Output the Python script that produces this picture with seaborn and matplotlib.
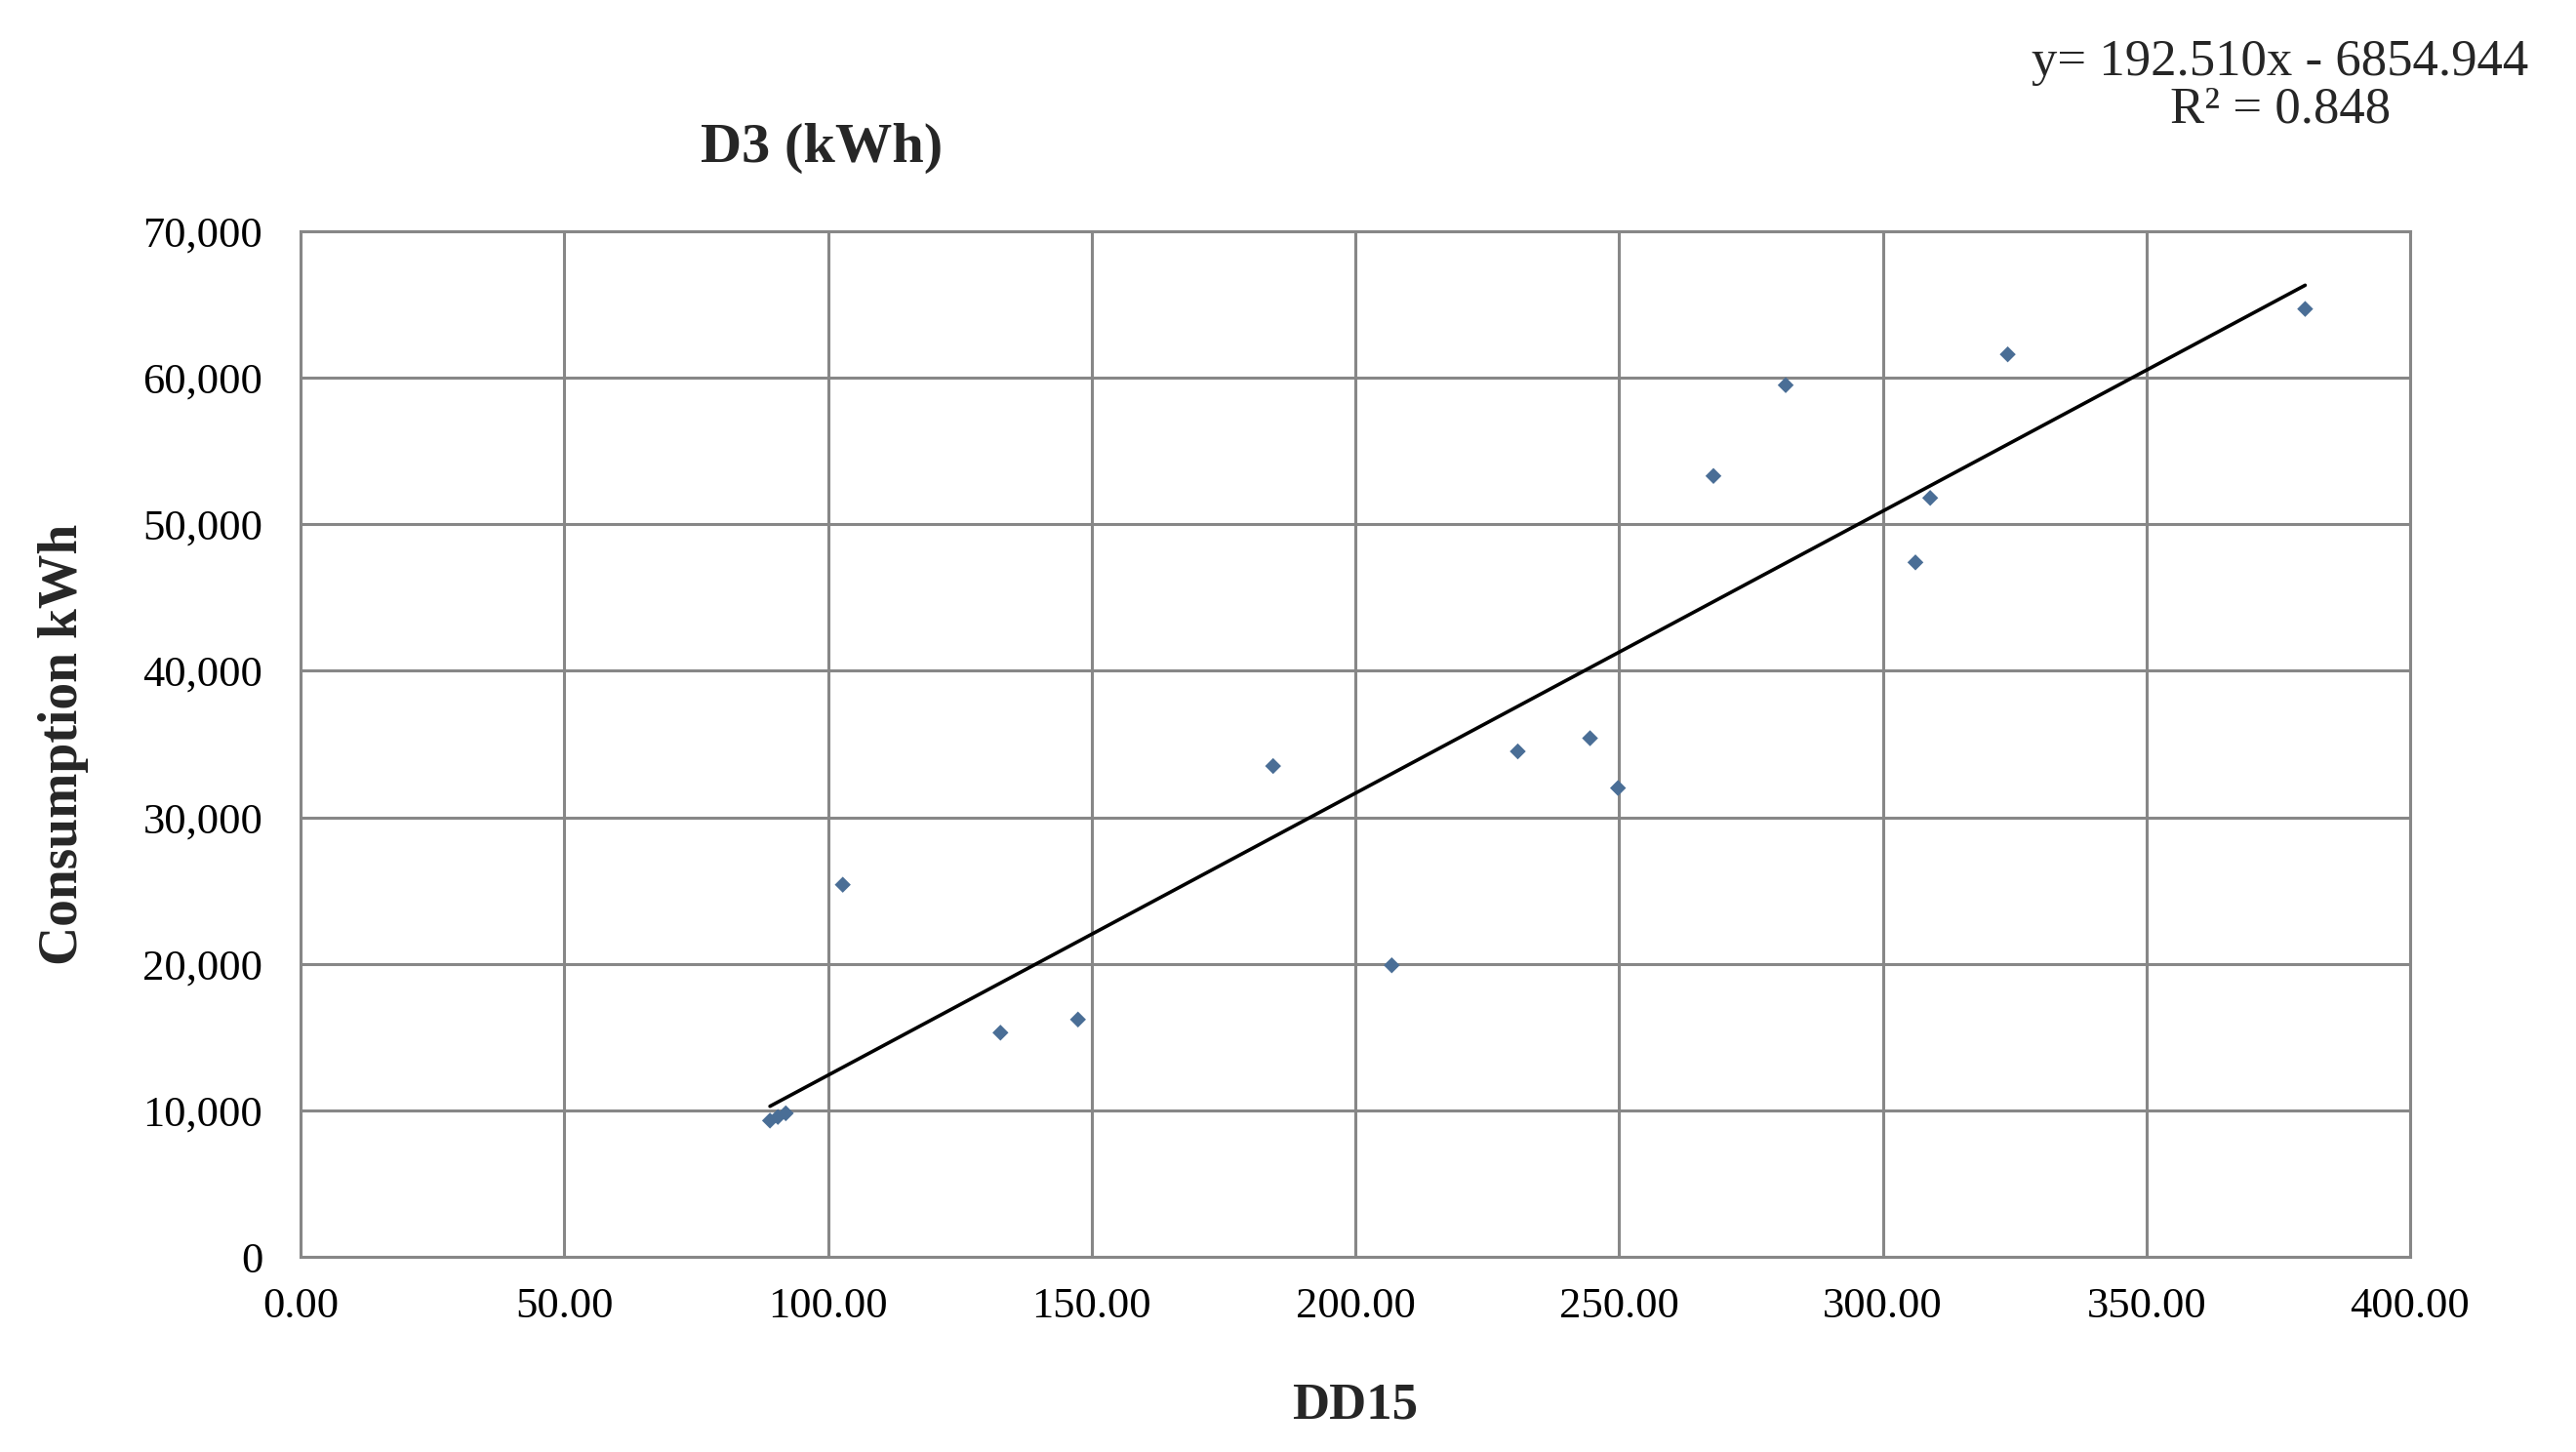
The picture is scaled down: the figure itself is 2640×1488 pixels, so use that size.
import numpy as np
import pandas as pd
import matplotlib
matplotlib.use("Agg")
import matplotlib.pyplot as plt
import seaborn as sns
from matplotlib.ticker import FuncFormatter, MultipleLocator

# ---- data ----
dd15 = [89.0, 90.5, 92.0, 102.8, 132.7, 147.4, 184.4, 206.9, 230.8, 244.5,
        249.8, 267.9, 281.6, 306.2, 309.0, 323.7, 380.1]
consumption = [9300, 9550, 9800, 25400, 15300, 16200, 33500, 19900, 34500, 35400,
               32000, 53300, 59500, 47400, 51800, 61600, 64700]
TREND_SLOPE = 192.510
TREND_INTERCEPT = -6854.944
R2 = 0.848

TITLE = "D3 (kWh)"
X_LABEL = "DD15"
Y_LABEL = "Consumption kWh"

df = pd.DataFrame({"DD15": dd15, "kWh": consumption})

sns.set_theme(style="white")
plt.rcParams['font.family'] = ['Liberation Serif', 'DejaVu Serif']

GRID = "#878787"

fig = plt.figure(figsize=(26.4, 14.88), dpi=100)
ax = fig.add_axes([0.1167, 0.1344, 0.9356 - 0.1167, 0.8407 - 0.1344])

# linear trend line over the data range
xs = np.array([df["DD15"].min(), df["DD15"].max()])
ax.plot(xs, TREND_SLOPE * xs + TREND_INTERCEPT, color="black", lw=2.6, zorder=3)

sns.scatterplot(data=df, x="DD15", y="kWh", ax=ax, marker="D", s=70,
                color="#4A6E96", edgecolor="none", zorder=4)

ax.set_xlim(0, 400)
ax.set_ylim(0, 70000)
ax.xaxis.set_major_locator(MultipleLocator(50))
ax.yaxis.set_major_locator(MultipleLocator(10000))
ax.xaxis.set_major_formatter(FuncFormatter(lambda v, p: f"{v:.2f}"))
ax.yaxis.set_major_formatter(FuncFormatter(lambda v, p: f"{v:,.0f}"))
ax.grid(True, color=GRID, lw=2.2)
ax.set_axisbelow(True)
for s in ax.spines.values():
    s.set_color(GRID)
    s.set_linewidth(2.2)
ax.tick_params(axis="both", length=0, labelsize=32, colors="black")
ax.tick_params(axis="x", pad=22)
ax.tick_params(axis="y", pad=28)

ax.set_xlabel(X_LABEL, fontsize=38, fontweight="bold", labelpad=42)
ax.set_ylabel(Y_LABEL, fontsize=40, fontweight="bold", labelpad=40)

fig.text(842 / 2640, 1 - 152 / 1488, TITLE, fontsize=42, fontweight="bold",
         ha="center", va="center")
fig.text(2337 / 2640, 1 - 88 / 1488,
         f"y= {TREND_SLOPE:.3f}x - {abs(TREND_INTERCEPT):.3f}\nR² = {R2:.3f}",
         fontsize=38, ha="center", va="center", linespacing=1.0)

fig.savefig("out.png", dpi=100, facecolor="white")
